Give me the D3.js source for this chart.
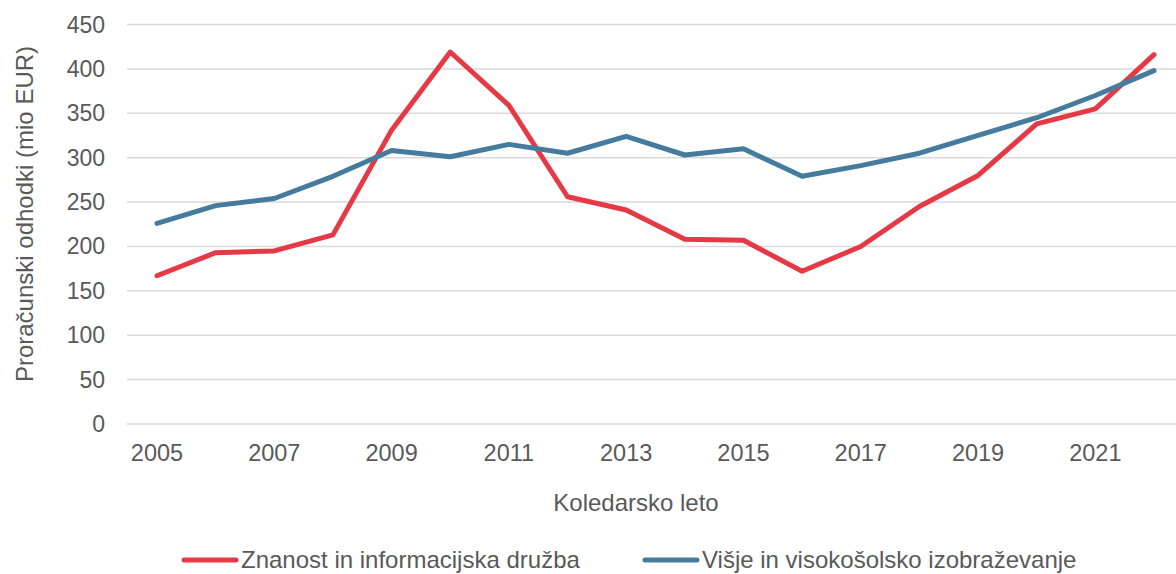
<!DOCTYPE html>
<html>
<head>
<meta charset="utf-8">
<script src="https://cdn.jsdelivr.net/npm/d3@7"></script>
<style>
  body { margin: 0; background: #fff; }
  svg text { font-family: "Liberation Sans", Arial, sans-serif; fill: #595959; }
</style>
</head>
<body>
<div id="chart"></div>
<script>
var years = [2005, 2006, 2007, 2008, 2009, 2010, 2011, 2012, 2013, 2014, 2015, 2016, 2017, 2018, 2019, 2020, 2021, 2022];
var znanost = [167, 193, 195, 213, 331, 419, 359, 256, 241, 208, 207, 172, 200, 245, 280, 338, 355, 416];
var visje = [226, 246, 254, 279, 308, 301, 315, 305, 324, 303, 310, 279, 291, 305, 325, 345, 370, 398];
var yTicks = [0, 50, 100, 150, 200, 250, 300, 350, 400, 450];
var seriesNames = ["Znanost in informacijska družba", "Višje in visokošolsko izobraževanje"];
var colors = ["#E63946", "#457B9D"];

var width = 1176, height = 574;
var svg = d3.select("#chart").append("svg").attr("width", width).attr("height", height);

var x = d3.scalePoint().domain(years).range([157, 1154]);
var y = d3.scaleLinear().domain([0, 450]).range([424, 24.5]);

// gridlines
svg.append("g").selectAll("line").data(yTicks).enter().append("line")
    .attr("x1", 127).attr("x2", 1176)
    .attr("y1", function(d){ return y(d); }).attr("y2", function(d){ return y(d); })
    .attr("stroke", "#D9D9D9").attr("stroke-width", 1.5);

// y labels
svg.append("g").selectAll("text").data(yTicks).enter().append("text")
    .attr("x", 105).attr("y", function(d){ return y(d); })
    .attr("dy", "0.35em").attr("text-anchor", "end")
    .style("font-size", "23px").text(function(d){ return d; });

// x labels, every second year
svg.append("g").selectAll("text").data(years.filter(function(d, i){ return i % 2 === 0; })).enter().append("text")
    .attr("x", function(d){ return x(d); }).attr("y", 461)
    .attr("text-anchor", "middle").style("font-size", "23.5px")
    .text(function(d){ return d; });

// axis titles
svg.append("text").attr("x", 636).attr("y", 511).attr("text-anchor", "middle")
    .style("font-size", "24px").text("Koledarsko leto");
svg.append("text").attr("transform", "translate(33,214) rotate(-90)")
    .attr("text-anchor", "middle").style("font-size", "24px")
    .text("Proračunski odhodki (mio EUR)");

// lines
var line = d3.line().x(function(d, i){ return x(years[i]); }).y(function(d){ return y(d); });
[znanost, visje].forEach(function(s, k){
    svg.append("path").datum(s).attr("d", line)
        .attr("fill", "none").attr("stroke", colors[k]).attr("stroke-width", 5)
        .attr("stroke-linejoin", "round").attr("stroke-linecap", "round");
});

// legend (nudged up a little so descenders stay inside the page)
var legX = [184, 645];
seriesNames.forEach(function(name, k){
    var g = svg.append("g").attr("transform", "translate(" + legX[k] + ",560)");
    g.append("line").attr("x1", 0).attr("x2", 52).attr("y1", 0).attr("y2", 0)
        .attr("stroke", colors[k]).attr("stroke-width", 5).attr("stroke-linecap", "round");
    g.append("text").attr("x", 57).attr("y", 0).attr("dy", "0.33em")
        .style("font-size", "24px").text(name);
});
</script>
</body>
</html>
